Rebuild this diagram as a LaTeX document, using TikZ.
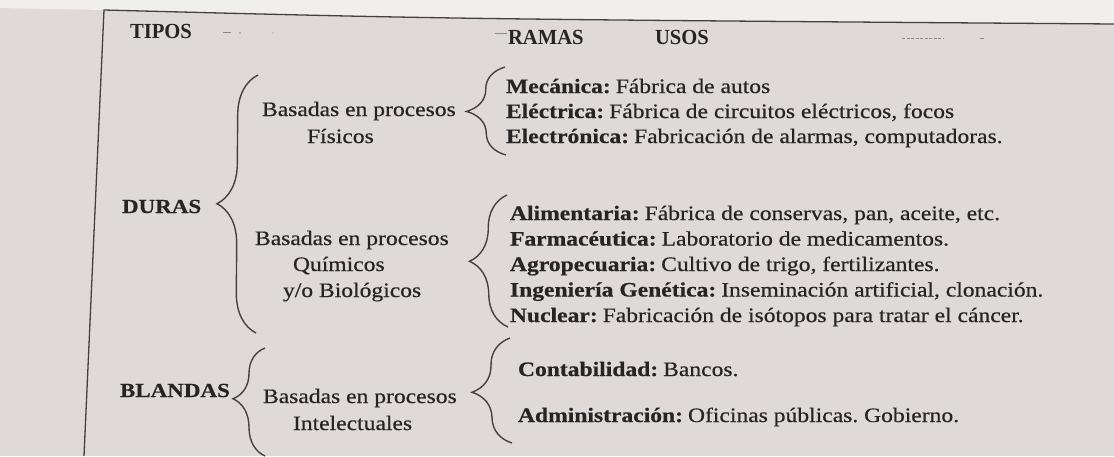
\documentclass[tikz,border=0pt]{standalone}
\usepackage{fontspec}
\setmainfont{Liberation Serif}[FakeStretch=1.15, RawFeature={embolden=0.5}]
\newfontfamily\hdrfont{Liberation Serif}[FakeStretch=0.96]
\usetikzlibrary{decorations.pathreplacing}
\definecolor{paper}{HTML}{DFDAD7}
\definecolor{paperlight}{HTML}{F1EFEE}
\definecolor{ink}{HTML}{262424}
\definecolor{rulecol}{HTML}{444140}
\definecolor{faint}{HTML}{8C8887}
\newcommand{\lbl}[1]{\textbf{#1}\hspace{5pt}}
\frenchspacing
\begin{document}
\begin{tikzpicture}[x=1pt,y=-1pt,
  txt/.style={anchor=base west, inner sep=0pt, outer sep=0pt, text=ink, font=\fontsize{20.5}{23}\selectfont},
  hdr/.style={anchor=base west, inner sep=0pt, outer sep=0pt, text=ink, font=\hdrfont\fontsize{21.5}{23}\selectfont\bfseries},
  kind/.style={txt, font=\fontsize{20}{23}\selectfont\bfseries},
  brc/.style={decorate, decoration={brace, amplitude=#1}, draw=rulecol, line width=1.4pt},
  frameline/.style={draw=rulecol, line width=1.3pt},
  smudge/.style={draw=faint, line width=0.8pt}]
\useasboundingbox (0,0) rectangle (1114,456);
\fill[paper] (0,0) rectangle (1114,456);
\fill[paperlight] (0,0) -- (1114,0) -- (1114,24) .. controls (450,19) .. (104,10) -- (0,8) -- cycle;
% frame
\coordinate (tl) at (104,10);
\coordinate (tr) at (1114,24);
\coordinate (bl) at (84,456);
\draw[frameline] (bl) -- (tl) .. controls (450,19) .. (tr);
% faint marks
\draw[smudge] (223,32) -- (231,32);
\fill[faint] (240,33) circle (0.8);
\fill[faint] (273,33) circle (0.6);
\draw[smudge] (495,33) -- (507,33);
\draw[smudge, dash pattern=on 3pt off 1.5pt] (902,38) -- (944,38);
\draw[smudge] (980,38) -- (984,38);
% headers
\node[hdr] (tipos) at (130,38) {TIPOS};
\node[hdr] (ramas) at (508,44) {RAMAS};
\node[hdr] (usos) at (655,44) {USOS};
% types
\node[kind] (duras) at (122,213) {DURAS};
\node[kind] (blandas) at (120,397) {BLANDAS};
% branches
\node[txt] (fis1) at (262,116) {Basadas en procesos};
\node[txt] (fis2) at (307,143) {Físicos};
\node[txt] (qui1) at (255,245) {Basadas en procesos};
\node[txt] (qui2) at (293,271) {Químicos};
\node[txt] (qui3) at (283,297) {y/o Biológicos};
\node[txt] (int1) at (263,403) {Basadas en procesos};
\node[txt] (int2) at (293,430) {Intelectuales};
% uses
\node[txt] (u1) at (506,93) {\lbl{Mecánica:}Fábrica de autos};
\node[txt] (u2) at (506,118) {\lbl{Eléctrica:}Fábrica de circuitos eléctricos, focos};
\node[txt] (u3) at (506,143) {\lbl{Electrónica:}Fabricación de alarmas, computadoras.};
\node[txt] (u4) at (510,220) {\lbl{Alimentaria:}Fábrica de conservas, pan, aceite, etc.};
\node[txt] (u5) at (510,245.5) {\lbl{Farmacéutica:}Laboratorio de medicamentos.};
\node[txt] (u6) at (510,271) {\lbl{Agropecuaria:}Cultivo de trigo, fertilizantes.};
\node[txt] (u7) at (510,296.5) {\lbl{Ingeniería Genética:}Inseminación artificial, clonación.};
\node[txt] (u8) at (510,322) {\lbl{Nuclear:}Fabricación de isótopos para tratar el cáncer.};
\node[txt] (u9) at (518,376) {\lbl{Contabilidad:}Bancos.};
\node[txt] (u10) at (518,422) {\lbl{Administración:}Oficinas públicas. Gobierno.};
% braces
\coordinate (b1s) at (256,333); \coordinate (b1e) at (258,75);
\coordinate (b2s) at (506,155); \coordinate (b2e) at (505,67);
\coordinate (b3s) at (508,327); \coordinate (b3e) at (507,195);
\coordinate (b4s) at (265,456); \coordinate (b4e) at (265,348);
\coordinate (b5s) at (512,443); \coordinate (b5e) at (510,338);
\draw[brc=40] (b1s) -- (b1e);
\draw[brc=39] (b2s) -- (b2e);
\draw[brc=38] (b3s) -- (b3e);
\draw[brc=32, decoration={aspect=0.53}] (b4s) -- (b4e);
\draw[brc=39, decoration={aspect=0.49}] (b5s) -- (b5e);
\end{tikzpicture}
\end{document}
